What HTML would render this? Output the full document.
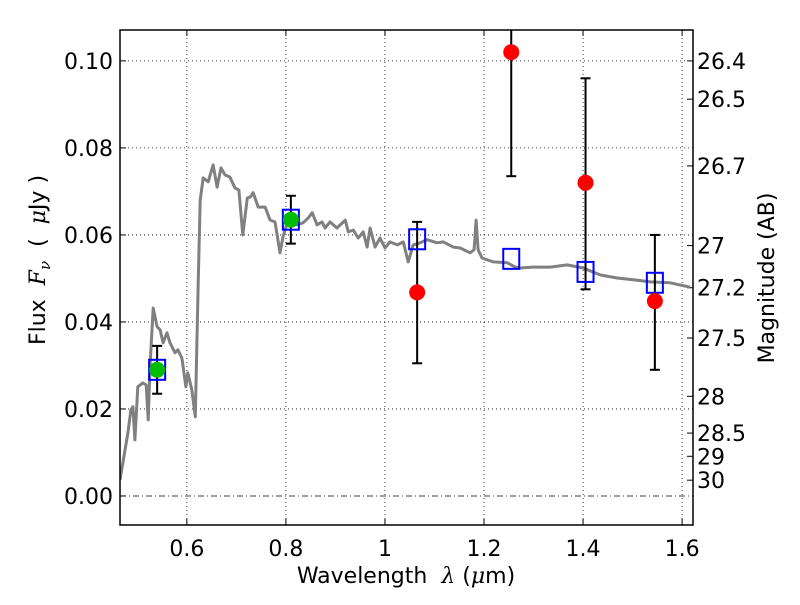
<!DOCTYPE html>
<html><head><meta charset="utf-8"><style>
html,body{margin:0;padding:0;background:#fff;}
svg text{font-family:"DejaVu Sans","Liberation Sans",sans-serif;}
</style></head><body>
<svg id="chart" width="800" height="600" viewBox="0 0 800 600" xmlns="http://www.w3.org/2000/svg"></svg>
<script>
const specLam=[0.465,0.481,0.487,0.491,0.495,0.501,0.511,0.518,0.522,0.526,0.532,0.540,0.546,0.552,0.560,0.566,0.576,0.582,0.590,0.598,0.602,0.610,0.617,0.623,0.627,0.633,0.643,0.653,0.661,0.669,0.677,0.687,0.697,0.705,0.713,0.722,0.728,0.734,0.744,0.758,0.768,0.778,0.788,0.794,0.804,0.823,0.835,0.845,0.853,0.863,0.873,0.879,0.889,0.903,0.920,0.926,0.936,0.946,0.956,0.964,0.970,0.980,0.990,1.000,1.010,1.025,1.037,1.047,1.057,1.071,1.085,1.105,1.118,1.138,1.152,1.172,1.180,1.184,1.188,1.196,1.219,1.247,1.263,1.273,1.299,1.334,1.368,1.400,1.435,1.469,1.501,1.536,1.576,1.616];
const specFlux=[0.0037,0.0145,0.0198,0.0205,0.0129,0.0251,0.026,0.0255,0.0175,0.0306,0.0432,0.0389,0.0382,0.0352,0.0375,0.0352,0.0329,0.0336,0.0317,0.0251,0.0283,0.0244,0.0182,0.049,0.068,0.0731,0.0722,0.0761,0.071,0.0754,0.0738,0.0733,0.0708,0.0703,0.060,0.0685,0.0687,0.0697,0.0664,0.0664,0.0634,0.063,0.0559,0.0595,0.0634,0.0623,0.0628,0.0639,0.0651,0.0623,0.0630,0.0616,0.0630,0.0616,0.0634,0.0607,0.0611,0.0593,0.0607,0.0572,0.0616,0.0572,0.0593,0.0570,0.0584,0.0577,0.0584,0.0538,0.0577,0.0582,0.0589,0.0582,0.0584,0.0572,0.0570,0.0559,0.0566,0.0634,0.0566,0.0547,0.0538,0.0536,0.0526,0.0524,0.0526,0.0526,0.0531,0.0524,0.0508,0.0501,0.0497,0.0492,0.049,0.048];
const modelLam=[0.54,0.81,1.065,1.255,1.405,1.545];
const modelFlux=[0.029,0.0635,0.059,0.0545,0.0515,0.049];
const detLam=[0.54,0.81];
const detFlux=[0.029,0.0635];
const detLo=[0.0235,0.058];
const detHi=[0.0345,0.069];
const obsLam=[1.065,1.255,1.405,1.545];
const obsFlux=[0.0468,0.102,0.072,0.0448];
const obsLo=[0.0305,0.0735,0.0475,0.029];
const obsHi=[0.063,0.115,0.096,0.060];
const xTicks=[0.6,0.8,1.0,1.2,1.4,1.6];
const xTickLabels=["0.6","0.8","1","1.2","1.4","1.6"];
const yTicks=[0,0.02,0.04,0.06,0.08,0.10];
const yTickLabels=["0.00","0.02","0.04","0.06","0.08","0.10"];
const magTicks=[26.4,26.5,26.7,27,27.2,27.5,28,28.5,29,30];
const magTickLabels=["26.4","26.5","26.7","27","27.2","27.5","28","28.5","29","30"];

const L=120,R=693,T=30,B=525;
const xMin=0.465,xMax=1.622,yMin=-0.00667,yMax=0.1071;
const X=v=>L+(v-xMin)/(xMax-xMin)*(R-L);
const Y=v=>B-(v-yMin)/(yMax-yMin)*(B-T);
const magToFlux=m=>Math.pow(10,(23.9-m)/2.5);
const svg=document.getElementById('chart');
const NS='http://www.w3.org/2000/svg';
function mk(tag,attrs,parent){const e=document.createElementNS(NS,tag);for(const k in attrs)e.setAttribute(k,attrs[k]);(parent||svg).appendChild(e);return e;}

const clip=mk('clipPath',{id:'pc'});mk('rect',{x:L,y:T,width:R-L,height:B-T},clip);

xTicks.forEach((t,i)=>{
  const g=mk('line',{x1:X(t),x2:X(t),y1:T,y2:B,stroke:'#000','stroke-width':0.8,'stroke-dasharray':'1,3'});
  
  
  const tk=mk('line',{x1:X(t),x2:X(t),y1:B,y2:B-6,stroke:'#000','stroke-width':1});
  
  
  const tk2=mk('line',{x1:X(t),x2:X(t),y1:T,y2:T+6,stroke:'#000','stroke-width':1});
  
  
  const lb=mk('text',{x:X(t),y:B+31,'text-anchor':'middle','font-size':22});
  lb.textContent=xTickLabels[i];
  
  
});
yTicks.forEach((t,i)=>{
  const g=mk('line',{x1:L,x2:R,y1:Y(t),y2:Y(t),stroke:'#000','stroke-width':0.8,'stroke-dasharray':t===0?'6,3,1,3':'1,3'});
  
  
  const tk=mk('line',{x1:L,x2:L+6,y1:Y(t),y2:Y(t),stroke:'#000','stroke-width':1});
  
  
  const lb=mk('text',{x:L-7,y:Y(t)+8,'text-anchor':'end','font-size':22});
  lb.textContent=yTickLabels[i];
  
  
});
magTicks.forEach((m,i)=>{
  const y=Y(magToFlux(m));
  const tk=mk('line',{x1:R,x2:R-6,y1:y,y2:y,stroke:'#000','stroke-width':1});
  
  
  const lb=mk('text',{x:R+4,y:y+8,'font-size':22});
  lb.textContent=magTickLabels[i];
  
  
});

const pts=specLam.map((l,i)=>X(l).toFixed(1)+','+Y(specFlux[i]).toFixed(1)).join(' ');
const sp=mk('polyline',{points:pts,fill:'none',stroke:'#808080','stroke-width':3,'stroke-linejoin':'round','clip-path':'url(#pc)'});



function errbar(l,lo,hi,name){
  const g=mk('g',{'clip-path':'url(#pc)'});
  
  
  mk('line',{x1:X(l),x2:X(l),y1:Y(lo),y2:Y(hi),stroke:'#000','stroke-width':2},g);
  mk('line',{x1:X(l)-5,x2:X(l)+5,y1:Y(lo),y2:Y(lo),stroke:'#000','stroke-width':2},g);
  mk('line',{x1:X(l)-5,x2:X(l)+5,y1:Y(hi),y2:Y(hi),stroke:'#000','stroke-width':2},g);
}
detLam.forEach((l,i)=>errbar(l,detLo[i],detHi[i],'detection-error-bar'));
obsLam.forEach((l,i)=>errbar(l,obsLo[i],obsHi[i],'upper-error-bar'));

modelLam.forEach((l,i)=>{
  const r=mk('rect',{x:X(l)-8,y:Y(modelFlux[i])-10,width:16,height:20,fill:'none',stroke:'#0000ff','stroke-width':2});
  
  
});
detLam.forEach((l,i)=>{
  const c=mk('circle',{cx:X(l),cy:Y(detFlux[i]),r:8,fill:'#00bb00'});
  
  
});
obsLam.forEach((l,i)=>{
  const c=mk('circle',{cx:X(l),cy:Y(obsFlux[i]),r:8,fill:'#ff0000'});
  
  
});

const fr=mk('rect',{x:L,y:T,width:R-L,height:B-T,fill:'none',stroke:'#000','stroke-width':1.5});



const xl=mk('text',{x:406,y:583,'text-anchor':'middle','font-size':22,'xml:space':'preserve'});
xl.innerHTML='Wavelength  <tspan font-style="italic" font-family="DejaVu Serif">λ</tspan> (<tspan font-style="italic" font-family="DejaVu Serif">μ</tspan>m)';
xl.style.whiteSpace='pre';


const yl=mk('text',{x:0,y:0,'text-anchor':'middle','font-size':22,transform:'translate(45,260) rotate(-90)'});
yl.style.whiteSpace='pre';
yl.innerHTML='Flux  <tspan font-style="italic" font-family="DejaVu Serif">F</tspan><tspan font-style="italic" font-family="DejaVu Serif" font-size="15" dy="5">ν</tspan><tspan dy="-5">  (  </tspan><tspan font-style="italic" font-family="DejaVu Serif">μ</tspan>Jy )';


const rl=mk('text',{x:0,y:0,'text-anchor':'middle','font-size':22,transform:'translate(774,278) rotate(-90)'});
rl.textContent='Magnitude (AB)';


</script>
</body></html>
